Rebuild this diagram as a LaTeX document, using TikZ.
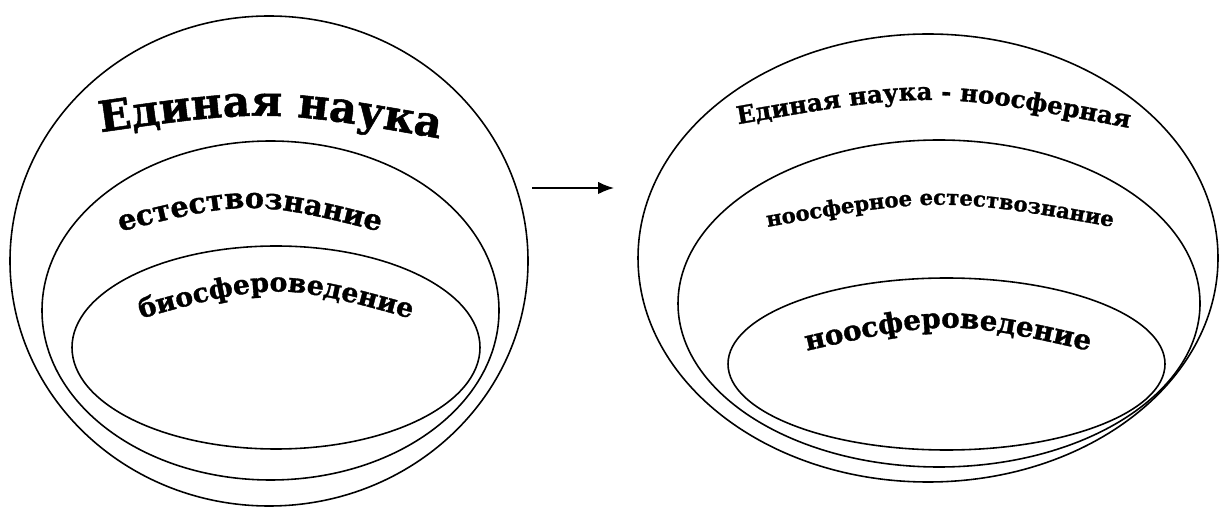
\documentclass[tikz,border=0pt]{standalone}
\usepackage{fontspec}
\setmainfont{DejaVu Serif}[BoldFeatures={FakeBold=1.2}]
\usetikzlibrary{decorations.text,arrows.meta}
\begin{document}
\begin{tikzpicture}[x=0.02cm,y=-0.02cm,
  ring/.style={draw=black,line width=0.9pt},
  arch/.style={decorate,decoration={text along path,text align=center,text={#1}}}]
\useasboundingbox (0,0) rectangle (1219,509);
% left diagram
\draw[ring] (269,261) ellipse [x radius=259, y radius=245];
\draw[ring] (270.5,310.5) ellipse [x radius=228.5, y radius=169.5];
\draw[ring] (276,347.5) ellipse [x radius=204, y radius=101.5];
\path[arch={|\fontsize{24.2}{30}\selectfont\bfseries|Единая наука}] (75,136) .. controls (268,108) .. (465,143);
\path[arch={|\fontsize{16.3}{20}\selectfont\bfseries|естествознание}] (95,238) .. controls (250,198) .. (405,238);
\path[arch={|\fontsize{15.2}{20}\selectfont\bfseries|биосфероведение}] (115,326) .. controls (276,280) .. (437,326);
% arrow
\coordinate (arrS) at (532,188);
\coordinate (arrE) at (614,188);
\draw[line width=0.9pt,-{Latex[length=9pt,width=7pt]}] (arrS) -- (arrE);
% right diagram
\draw[ring] (928,258) ellipse [x radius=290, y radius=224];
\draw[ring] (939,303.5) ellipse [x radius=261, y radius=163.5];
\draw[ring] (946.5,364) ellipse [x radius=218.5, y radius=86];
\path[arch={|\fontsize{13.9}{18}\selectfont\bfseries|Единая наука - ноосферная}] (717,128) .. controls (932,90) .. (1150,132);
\path[arch={|\fontsize{12}{15}\selectfont\bfseries|ноосферное естествознание}] (745,231) .. controls (940,196) .. (1135,231);
\path[arch={|\fontsize{15.8}{20}\selectfont\bfseries|ноосфероведение}] (780,357) .. controls (948,318) .. (1116,357);
\end{tikzpicture}
\end{document}
